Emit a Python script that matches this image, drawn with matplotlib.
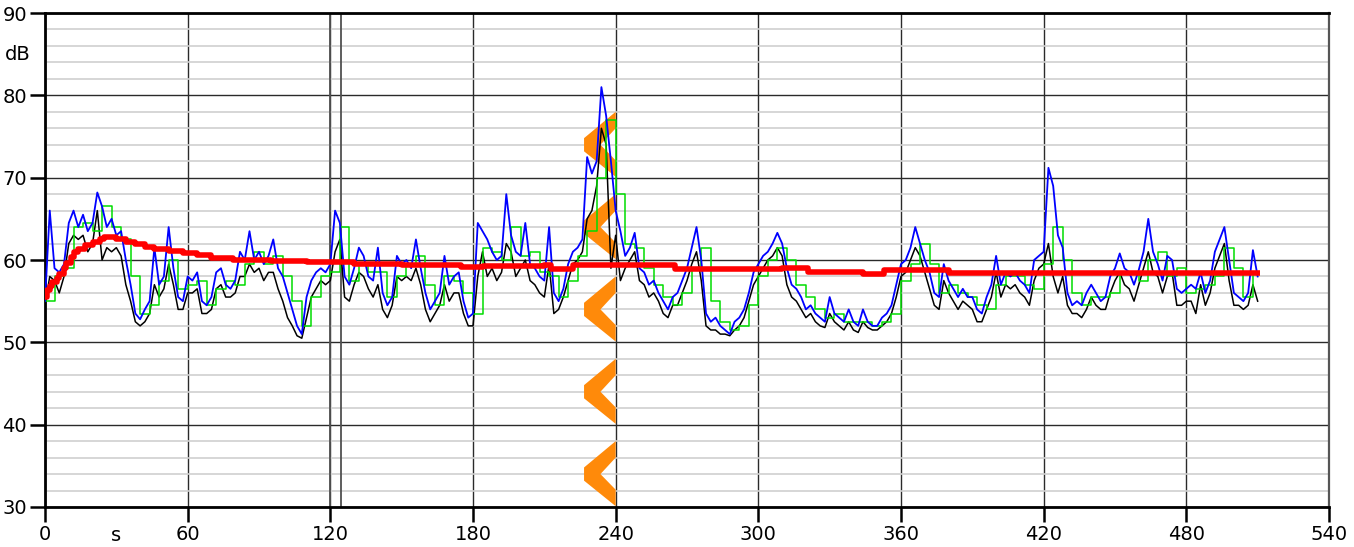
import numpy as np
import matplotlib
matplotlib.use("Agg")
import matplotlib.pyplot as plt
from matplotlib.ticker import MultipleLocator
from matplotlib.patches import Polygon

# sound level record, one sample every 2 s (blue = fast max, black = fast, green = slow)
level_max = [
    55, 66, 59, 58.5, 59.5, 64.5, 66, 64, 65.5, 63.5,
    64.5, 68.2, 66.5, 64, 65, 63, 63.5, 60, 57, 53.5,
    52.8, 54, 55, 61.5, 57, 58, 64, 59, 55.5, 55,
    58, 57.5, 58.5, 55, 54.5, 55.5, 58.5, 59, 57, 56.5,
    57.5, 61, 60, 63.5, 60, 61, 59.5, 60.5, 62.5, 59,
    58, 56, 54, 52, 51, 55.5, 57.5, 58.5, 59, 58.5,
    59.5, 66, 64.5, 58, 57, 59, 61.5, 60.5, 58, 57.5,
    61.5, 56, 54.5, 55.5, 60.5, 59.5, 60, 59, 62.5, 59,
    56, 54, 55, 56, 60.5, 57, 58, 58.5, 55, 53,
    53.5, 64.5, 63.5, 62.5, 61, 60, 60.5, 68, 63, 61,
    60.5, 64.5, 59.5, 59, 58, 57.5, 64, 56, 55, 56.5,
    59.5, 61, 61.5, 62.5, 72.5, 70.5, 72, 81, 77.5, 72,
    66, 63.5, 60.5, 61.5, 63.3, 59, 58.5, 57, 57.5, 56,
    55, 54, 55.5, 56, 57.5, 59, 61.5, 64, 60, 53.5,
    52.5, 53, 52, 51.5, 51, 52.5, 53, 54, 56, 58.5,
    59.5, 60.5, 61, 62, 63.3, 62, 59, 57, 56.5, 55.5,
    54, 54.5, 53.5, 53, 52.5, 55.5, 53.5, 53, 52.5, 54,
    52.5, 52, 54, 52.5, 52, 52, 53, 53.5, 54.5, 57,
    59.5, 60, 61.5, 64, 62, 60, 58.5, 56, 55.5, 59.5,
    57.5, 56.5, 55.5, 56.5, 55.5, 55.5, 54, 53.5, 55.5, 57,
    60.5, 57, 58.5, 58, 58.5, 57.5, 57, 56, 60, 60.5,
    61, 71.2, 69, 63, 61.5, 56, 54.5, 55, 54.5, 56,
    57, 56, 55, 55.5, 58, 59, 60.8, 59, 58.5, 57,
    58.8, 61, 65, 61, 59.5, 57.5, 60.5, 60, 56.5, 56,
    56.5, 57, 56.5, 58.5, 56, 57.5, 61, 62.5, 64, 60,
    56, 55.5, 55, 56, 61.2, 58,
]

level_fast = [
    54.5, 58, 57.5, 56, 58, 62, 63, 62.5, 63, 61,
    62, 66, 60, 61.5, 61, 61.5, 60.5, 57, 55, 52.5,
    52, 52.5, 53.5, 57, 55.5, 56.5, 59.5, 57, 54, 54,
    56, 56, 56.5, 53.5, 53.5, 54, 56.5, 57, 55.5, 55.5,
    56, 58, 58, 59.5, 58.5, 59, 57.5, 58.5, 58.5, 56.5,
    55, 53, 52, 50.8, 50.5, 53, 55.5, 56.5, 57.5, 57,
    57.5, 61, 62.5, 55.5, 55, 57, 58.5, 58, 56.5, 55.5,
    57, 54, 53, 54.5, 58, 57.5, 58, 57.5, 59, 57,
    54, 52.5, 53.5, 54.5, 57, 55, 56, 56, 53.5, 52,
    52, 58, 61, 58, 59, 57.5, 58.5, 62, 61, 58,
    59, 60, 57.5, 57, 56, 55.5, 59.5, 53.5, 54, 55.5,
    57.5, 59.5, 60, 61, 65, 66, 69, 76, 74, 59,
    63, 57.5, 59, 60, 61, 57.5, 57, 55.5, 56, 55,
    53.5, 53, 54.5, 54.5, 56, 57.5, 59.5, 61, 57.5, 52,
    51.5, 51.5, 51, 51, 50.8, 51.5, 52, 53, 55, 57,
    58, 59, 60, 60.5, 61.5, 60.5, 57, 55.5, 55, 54,
    53, 53.5, 52.5, 52, 51.8, 53.5, 52.5, 52, 51.5, 52.5,
    51.5, 51.2, 52.5, 51.8, 51.5, 51.5, 52, 52.5, 53.5, 55.5,
    58, 58.5, 60, 61.5, 60.5, 58.5, 56.5, 54.5, 54, 57.5,
    56, 55, 54, 55, 54.5, 54, 52.5, 52.5, 54, 55.5,
    58.5, 55.5, 57, 56.5, 57, 56, 55.5, 54.5, 57.5, 59,
    59.5, 62, 58, 56, 58, 54.5, 53.5, 53.5, 53, 54,
    55.5, 54.5, 54, 54, 56, 57.5, 58.5, 57, 56.5, 55,
    57, 59, 61, 58.5, 58, 56, 58, 58.5, 54.5, 54.5,
    55, 55, 53.5, 57, 54.5, 56, 59, 60.5, 62, 57.5,
    54.5, 54.5, 54, 54.5, 57, 55,
]

# slow weighting, one sample every 4 s
level_slow = [
    55, 58, 59, 64, 64.5, 63.5, 66.5, 64, 62.5, 58,
    53.5, 54.5, 57.5, 60, 56.5, 57, 57.5, 54.5, 56.5, 57.5,
    57, 59.5, 61, 59.5, 60.5, 58, 55, 52, 55.5, 58,
    58.5, 64, 57.5, 59.5, 58.5, 58.5, 55.5, 58, 59.5, 60.5,
    57, 54.5, 58, 57.5, 56, 53.5, 61.5, 61, 60, 64,
    60.5, 61, 58.5, 58, 55.5, 57.5, 60.5, 63.5, 70, 77,
    68, 62, 61.5, 59, 57, 55.5, 54.5, 56, 59, 61.5,
    55, 52.5, 51.5, 52, 54.5, 58, 60, 61.5, 60, 57,
    55.5, 54, 53, 53.5, 52.5, 52.5, 52.5, 52, 52.5, 53.5,
    57.5, 59.5, 62, 59.5, 56, 57, 56, 55.5, 54.5, 54,
    57, 58, 58, 57, 56.5, 59.5, 64, 60, 56, 54.5,
    55.5, 55.5, 56, 58.5, 58.5, 57.5, 60, 61, 58, 59,
    56, 56.5, 57, 58, 61.5, 59, 55.5, 58,
]

# running Leq: time where each level starts, and the level
leq_t = [0, 1, 2, 3, 5, 6, 8, 9, 11, 12, 14, 17, 20, 23, 25, 30, 34, 38, 42,
         46, 52, 58, 64, 70, 79, 95, 110, 130, 150, 175, 184, 210, 213, 222,
         265, 310, 321, 344, 353, 380, 511]
leq_v = [55.5, 56.3, 56.8, 57.3, 57.8, 58.3, 59.0, 59.6, 60.4, 61.0, 61.3, 61.8,
         62.2, 62.6, 62.8, 62.6, 62.2, 61.9, 61.6, 61.3, 61.1, 60.9, 60.6, 60.3,
         60.0, 59.9, 59.8, 59.5, 59.4, 59.1, 59.3, 59.4, 58.9, 59.4, 58.9, 59.0,
         58.6, 58.3, 58.8, 58.4, 58.4]

# event markers
marker_t = [120, 124.5]
chevron_mid = [34, 44, 54, 64, 74]

x_ticks = [0, 60, 120, 180, 240, 300, 360, 420, 480, 540]
y_ticks = [30, 40, 50, 60, 70, 80, 90]

plt.rcParams['font.family'] = ['DejaVu Sans']

fig = plt.figure(figsize=(13.54, 5.47), dpi=100)
ax = fig.add_axes([45 / 1354, 1 - 507 / 547, 1284 / 1354, 494 / 547])

ax.set_xlim(0, 540)
ax.set_ylim(30, 90)
ax.set_xticks(x_ticks)
ax.set_yticks(y_ticks)
ax.yaxis.set_minor_locator(MultipleLocator(2))

ax.grid(which='minor', axis='y', color='#cfcfcf', lw=1.2, zorder=0)
ax.grid(which='major', axis='both', color='#2a2a2a', lw=1.0, zorder=0.5)
ax.set_axisbelow(True)

for xm in marker_t:
    ax.axvline(xm, color='#505050', lw=1.3, zorder=0.6)

# orange "<" marks along 240 s
for m in chevron_mid:
    pts = [(240, m + 4.0), (226.7, m + 0.8), (226.7, m - 0.8),
           (240, m - 3.9), (240, m - 1.9), (233.6, m), (240, m + 2.0)]
    ax.add_patch(Polygon(pts, closed=True, facecolor='#ff8a0a',
                         edgecolor='none', zorder=1))

t2 = np.arange(len(level_max)) * 2
t4 = np.arange(len(level_slow)) * 4

ax.plot(t2, level_fast, color='black', lw=1.1, zorder=3)
ax.plot(t4, level_slow, color='#00dd00', lw=1.1, drawstyle='steps-post', zorder=4)
ax.plot(t2, level_max, color='#0000ff', lw=1.3, zorder=5)
ax.plot(leq_t, leq_v, color='#ff0000', lw=4.0, drawstyle='steps-post',
        zorder=6, solid_capstyle='butt')

for side in ['left', 'bottom', 'top']:
    ax.spines[side].set_color('black')
    ax.spines[side].set_linewidth(2.0)
ax.spines['right'].set_color('#555555')
ax.spines['right'].set_linewidth(1.6)

ax.tick_params(which='major', direction='out', length=11, width=1.8,
               color='black', labelsize=14, pad=2)
ax.tick_params(which='minor', length=0)

ax.text(-0.021, 85, 'dB', transform=ax.get_yaxis_transform(), fontsize=14,
        ha='center', va='center')
ax.text(30, -0.058, 's', transform=ax.get_xaxis_transform(), fontsize=14,
        ha='center', va='center')

fig.savefig('out.png', dpi=100)
